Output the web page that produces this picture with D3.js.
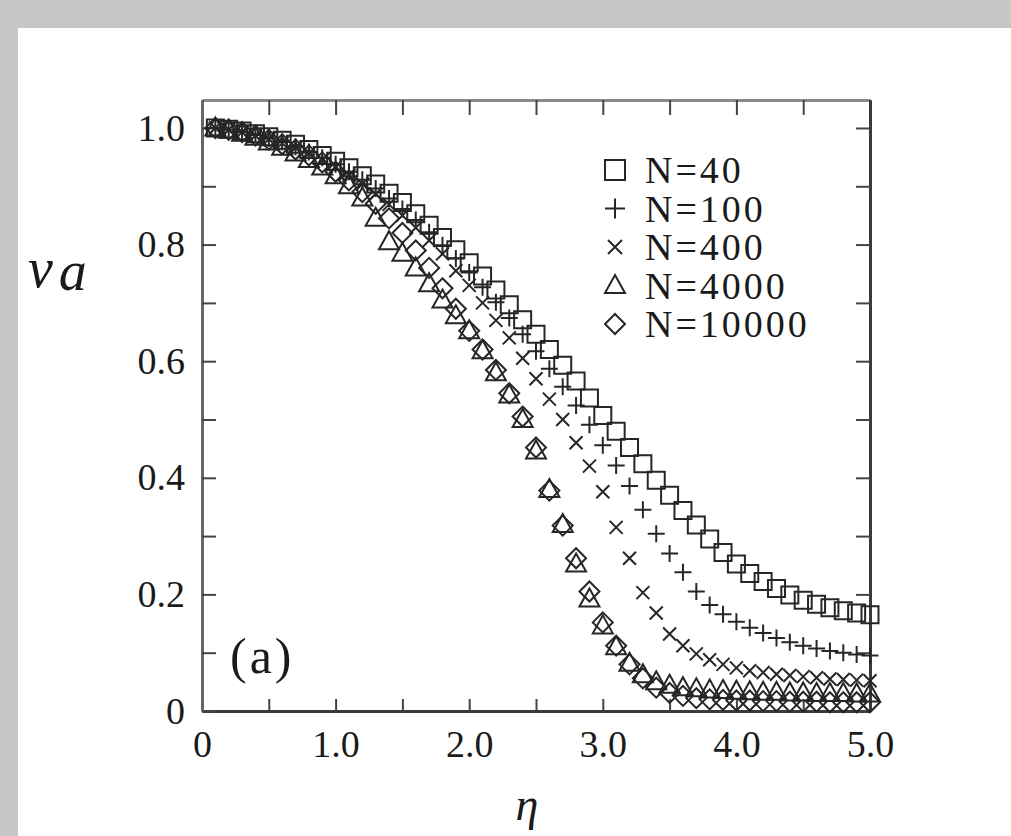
<!DOCTYPE html>
<html>
<head>
<meta charset="utf-8">
<script src="https://cdn.jsdelivr.net/npm/d3@7"></script>
<style>
  body { margin: 0; background: #c5c6c5; }
  svg { display: block; }
</style>
</head>
<body>
<svg id="chart"></svg>
<script>
// noise strength eta, one point every 0.1
var eta = [0.1,0.2,0.3,0.4,0.5,0.6,0.7,0.8,0.9,1.0,
           1.1,1.2,1.3,1.4,1.5,1.6,1.7,1.8,1.9,2.0,
           2.1,2.2,2.3,2.4,2.5,2.6,2.7,2.8,2.9,3.0,
           3.1,3.2,3.3,3.4,3.5,3.6,3.7,3.8,3.9,4.0,
           4.1,4.2,4.3,4.4,4.5,4.6,4.7,4.8,4.9,5.0];

// v_a for each system size
var vN40 = [1.000,0.998,0.995,0.990,0.985,0.979,0.972,0.963,0.953,0.943,
            0.932,0.918,0.904,0.888,0.872,0.853,0.833,0.812,0.791,0.769,
            0.746,0.722,0.697,0.671,0.646,0.620,0.593,0.566,0.537,0.507,
            0.480,0.452,0.424,0.396,0.370,0.344,0.319,0.295,0.272,0.252,
            0.236,0.222,0.210,0.199,0.190,0.183,0.177,0.172,0.168,0.165];
var vN100 = [1.000,0.997,0.993,0.988,0.982,0.976,0.968,0.959,0.949,0.938,
             0.925,0.911,0.896,0.879,0.861,0.842,0.821,0.799,0.776,0.752,
             0.727,0.701,0.674,0.646,0.617,0.587,0.556,0.524,0.491,0.456,
             0.421,0.386,0.345,0.304,0.270,0.238,0.205,0.182,0.166,0.153,
             0.143,0.134,0.125,0.118,0.112,0.107,0.103,0.100,0.097,0.095];
var vN400 = [1.000,0.997,0.993,0.987,0.981,0.974,0.966,0.956,0.945,0.933,
             0.919,0.904,0.887,0.869,0.850,0.829,0.807,0.784,0.755,0.730,
             0.700,0.670,0.640,0.605,0.570,0.535,0.500,0.460,0.420,0.376,
             0.315,0.262,0.203,0.168,0.132,0.112,0.098,0.088,0.080,0.074,
             0.069,0.066,0.063,0.061,0.059,0.057,0.055,0.054,0.053,0.052];
var vN4000 = [1.000,0.996,0.991,0.984,0.976,0.967,0.957,0.946,0.933,0.918,
              0.901,0.880,0.845,0.805,0.785,0.760,0.733,0.705,0.678,0.652,
              0.618,0.580,0.542,0.500,0.446,0.380,0.320,0.252,0.192,0.146,
              0.110,0.082,0.062,0.050,0.044,0.040,0.038,0.036,0.035,0.034,
              0.033,0.032,0.032,0.031,0.031,0.030,0.030,0.030,0.029,0.029];
var vN10000 = [1.000,0.997,0.993,0.987,0.980,0.972,0.963,0.953,0.941,0.925,
               0.910,0.890,0.870,0.845,0.820,0.790,0.760,0.725,0.690,0.652,
               0.620,0.585,0.545,0.505,0.452,0.378,0.318,0.262,0.205,0.152,
               0.112,0.080,0.056,0.040,0.031,0.026,0.022,0.020,0.019,0.018,
               0.018,0.017,0.017,0.016,0.016,0.016,0.015,0.015,0.015,0.015];

var seriesNames = ['N=40','N=100','N=400','N=4000','N=10000'];
var seriesShapes = ['square','plus','cross','triangle','diamond'];
var seriesValues = [vN40, vN100, vN400, vN4000, vN10000];

var xTicks = [0,0.5,1,1.5,2,2.5,3,3.5,4,4.5,5];
var xLabels = ['0','','1.0','','2.0','','3.0','','4.0','','5.0'];
var yTicks = [0,0.1,0.2,0.3,0.4,0.5,0.6,0.7,0.8,0.9,1.0];
var yLabels = ['0','','0.2','','0.4','','0.6','','0.8','','1.0'];

var SERIF = '"Liberation Serif", "DejaVu Serif", serif';
var W = 1011, H = 836;
var svg = d3.select('#chart').attr('width', W).attr('height', H);

// grey border and white sheet
svg.append('rect').attr('width', W).attr('height', H).style('fill', '#c5c6c5');
svg.append('rect').attr('x', 18).attr('y', 28).attr('width', W - 18).attr('height', H - 28).style('fill', '#ffffff');

var x = d3.scaleLinear().domain([0, 5]).range([202, 870]);
var y = d3.scaleLinear().domain([0, 1.048]).range([711, 100]);

function shapePath(shape, s) {
  var h = s / 2;
  if (shape == 'square') return 'M' + (-h) + ',' + (-h) + 'h' + s + 'v' + s + 'h' + (-s) + 'Z';
  if (shape == 'plus') return 'M' + (-h) + ',0H' + h + 'M0,' + (-h) + 'V' + h;
  if (shape == 'cross') return 'M' + (-h) + ',' + (-h) + 'L' + h + ',' + h + 'M' + (-h) + ',' + h + 'L' + h + ',' + (-h);
  if (shape == 'triangle') return 'M0,' + (-h * 1.05) + 'L' + h + ',' + (h * 0.75) + 'L' + (-h) + ',' + (h * 0.75) + 'Z';
  return 'M0,' + (-h) + 'L' + h + ',0L0,' + h + 'L' + (-h) + ',0Z';
}
var shapeSize = {square: 17, plus: 17, cross: 13, triangle: 20, diamond: 20};

// axes with inward ticks on all four sides
var fontPx = 38;
var bottomAxis = d3.axisBottom(x).tickValues(xTicks)
  .tickFormat(function(d, i){ return xLabels[i]; })
  .tickSizeInner(-12).tickSizeOuter(0).tickPadding(19);
var topAxis = d3.axisTop(x).tickValues(xTicks).tickFormat('')
  .tickSizeInner(-15).tickSizeOuter(0);
var leftAxis = d3.axisLeft(y).tickValues(yTicks)
  .tickFormat(function(d, i){ return yLabels[i]; })
  .tickSizeInner(-14).tickSizeOuter(0).tickPadding(17);
var rightAxis = d3.axisRight(y).tickValues(yTicks).tickFormat('')
  .tickSizeInner(-14).tickSizeOuter(0);

function styleAxis(g, col) {
  g.select('.domain').style('stroke', col).style('stroke-width', 3);
  g.selectAll('.tick line').style('stroke', '#444').style('stroke-width', 2);
  g.selectAll('.tick text').style('font-size', fontPx + 'px')
    .style('font-family', SERIF).style('fill', '#1a1a1a');
}

var gBottom = svg.append('g').attr('transform', 'translate(0,' + y(0) + ')').call(bottomAxis);
styleAxis(gBottom, '#3a3a3a');
var gTop = svg.append('g').attr('transform', 'translate(0,' + y(1.048) + ')').call(topAxis);
styleAxis(gTop, '#8a8a8a');
var gLeft = svg.append('g').attr('transform', 'translate(' + x(0) + ',0)').call(leftAxis);
styleAxis(gLeft, '#666');
var gRight = svg.append('g').attr('transform', 'translate(' + x(5) + ',0)').call(rightAxis);
styleAxis(gRight, '#3a3a3a');

// data markers
seriesValues.forEach(function(vals, si){
  var shape = seriesShapes[si];
  svg.append('g').attr('class', 'series')
    .selectAll('path')
    .data(eta.map(function(e, i){ return {eta: e, v: vals[i]}; }))
    .enter().append('path')
      .attr('transform', function(d){ return 'translate(' + x(d.eta) + ',' + y(d.v) + ')'; })
      .attr('d', shapePath(shape, shapeSize[shape]))
      .style('fill', 'none')
      .style('stroke', '#262626')
      .style('stroke-width', 2);
});

// legend
var legend = svg.append('g').attr('transform', 'translate(615,170)');
seriesNames.forEach(function(name, i){
  var row = legend.append('g').attr('transform', 'translate(0,' + (i * 38.5) + ')');
  var shape = seriesShapes[i];
  row.append('path')
    .attr('d', shapePath(shape, shape == 'cross' ? 14 : 20))
    .style('fill', 'none').style('stroke', '#262626').style('stroke-width', 2);
  row.append('text')
    .attr('x', 30).attr('y', 13)
    .style('font-family', SERIF).style('fill', '#1a1a1a')
    .style('font-size', '38px').style('letter-spacing', '3px')
    .text(name);
});

// panel tag
svg.append('text').attr('x', 230).attr('y', 673)
  .style('font-family', SERIF).style('fill', '#1a1a1a')
  .style('font-size', '50px').style('letter-spacing', '3px')
  .text('(a)');

// axis titles
var yTitle = svg.append('text').attr('x', 28).attr('y', 287)
  .style('font-family', SERIF).style('fill', '#1a1a1a')
  .style('font-size', '56px').style('font-style', 'italic');
yTitle.append('tspan').text('v');
yTitle.append('tspan').attr('dx', 6).attr('dy', 3).text('a');

svg.append('text').attr('x', 527).attr('y', 820)
  .attr('text-anchor', 'middle')
  .style('font-family', SERIF).style('fill', '#1a1a1a')
  .style('font-size', '46px').style('font-style', 'italic')
  .text('η');
</script>
</body>
</html>
